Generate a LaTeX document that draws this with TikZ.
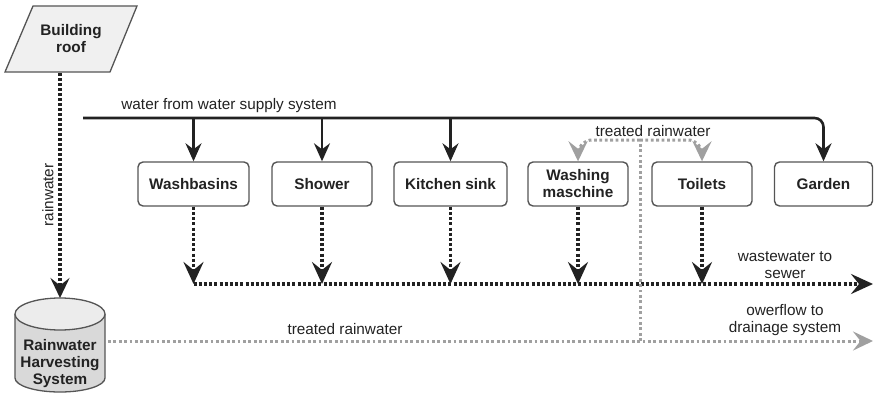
\documentclass[tikz,border=0pt]{standalone}
\usepackage{fontspec}
\setmainfont{Liberation Sans}
\usetikzlibrary{arrows.meta}
\definecolor{ink}{HTML}{222222}
\definecolor{edgec}{HTML}{555555}
\definecolor{rainc}{HTML}{A0A0A0}
\begin{document}
\begin{tikzpicture}[x=1pt,y=-1pt,
  font=\fontsize{15.3}{17}\selectfont, text=ink,
  unit/.style={draw=edgec, line width=1.4pt, rounded corners=5pt, minimum height=44pt,
    font=\fontsize{15.3}{17}\selectfont\bfseries, align=center, inner sep=2pt},
  supply/.style={draw=ink, line width=2.2pt, -{Stealth[length=18pt,width=16pt,inset=6pt]}},
  waste/.style={draw=ink, line width=3.4pt, dash pattern=on 3pt off 2.2pt, -{Stealth[length=22pt,width=20pt,inset=8pt]}},
  rainline/.style={draw=rainc, line width=3pt, dash pattern=on 2.8pt off 2.6pt},
  raintip/.style={-{Stealth[length=20pt,width=19pt,inset=7.5pt,fill=rainc,color=rainc]}},
  lbl/.style={align=center, inner sep=1pt}
]
\useasboundingbox (0,0) rectangle (874,396);

% building roof
\draw[draw=edgec, fill=gray!12, line width=1.3pt] (5,72) -- (33,6) -- (137,6) -- (110,72) -- cycle;
\node[font=\fontsize{15.3}{17}\selectfont\bfseries, align=center] (roof) at (71,39) {Building\\roof};
\coordinate (roofb) at (60,73);

% rainwater harvesting system (cylinder)
\fill[gray!30] (15,314) -- (15,378) arc[start angle=180, end angle=0, x radius=45, y radius=14] -- (105,314) -- cycle;
\draw[edgec, line width=1.3pt] (15,314) -- (15,378) arc[start angle=180, end angle=0, x radius=45, y radius=14] -- (105,314);
\draw[edgec, fill=gray!15, line width=1.3pt] (60,314) ellipse[x radius=45, y radius=16];
\node[font=\fontsize{15.3}{17}\selectfont\bfseries, align=center] (rhs) at (60,364) {Rainwater\\Harvesting\\System};
\coordinate (rhstop) at (60,298);
\coordinate (rhsright) at (108,341);

% rainwater down
\draw[draw=ink, line width=3.2pt, dash pattern=on 2.8pt off 2.2pt, -{Stealth[length=20pt,width=19pt,inset=7.5pt]}] (roofb) -- (rhstop);
\node[lbl, rotate=90] (rwlbl) at (48,195) {rainwater};

% consumers
\node[unit, minimum width=111pt] (wash) at (193.5,184) {Washbasins};
\node[unit, minimum width=100pt] (shower) at (322,184) {Shower};
\node[unit, minimum width=113pt] (kitchen) at (450.5,184) {Kitchen sink};
\node[unit, minimum width=100pt] (wm) at (578,184) {Washing\\maschine};
\node[unit, minimum width=100pt] (toilets) at (702,184) {Toilets};
\node[unit, minimum width=98pt] (garden) at (823.5,184) {Garden};

% water supply
\coordinate (s0) at (83,118);
\draw[draw=ink, line width=2.6pt, rounded corners=9pt, -{Stealth[length=18pt,width=16pt,inset=6pt]}] (s0) -| (garden.north);
\node[lbl] (supplylbl) at (229,106) {water from water supply system};
\coordinate (s1) at (193.5,118);
\coordinate (s2) at (322,118);
\coordinate (s3) at (450.5,118);
\draw[supply] (s1) -- (wash.north);
\draw[supply] (s2) -- (shower.north);
\draw[supply] (s3) -- (kitchen.north);

% wastewater
\coordinate (w0) at (193.5,284);
\coordinate (wend) at (873,284);
\draw[waste] (w0) -- (wend);
\draw[waste] (wash.south) -- (wash.south |- w0);
\draw[waste] (shower.south) -- (shower.south |- w0);
\draw[waste] (kitchen.south) -- (kitchen.south |- w0);
\draw[waste] (wm.south) -- (wm.south |- w0);
\draw[waste] (toilets.south) -- (toilets.south |- w0);
\node[lbl] (wastelbl) at (785,265) {wastewater to\\sewer};

% treated rainwater
\coordinate (rend) at (873,341);
\coordinate (split) at (640,341);
\coordinate (rtop) at (640,140);
\draw[rainline, raintip] (rhsright) -- (rend);
\node[lbl] (trlbl) at (345,329) {treated rainwater};
\draw[rainline] (split) -- (rtop);
\draw[rainline, raintip, rounded corners=14pt] (rtop) -| (wm.north);
\draw[rainline, raintip, rounded corners=14pt] (rtop) -| (toilets.north);
\node[lbl] (trlbl2) at (653,131) {treated rainwater};
\node[lbl] (overlbl) at (785,320) {owerflow to\\drainage system};
\end{tikzpicture}
\end{document}
